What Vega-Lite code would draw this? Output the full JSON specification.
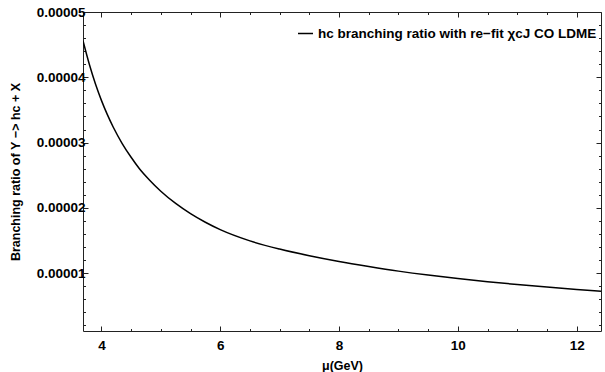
{
  "$schema": "https://vega.github.io/schema/vega-lite/v6.json",
  "width": 518,
  "height": 319,
  "autosize": {"type": "none"},
  "padding": {"left": 83, "top": 12, "right": 3, "bottom": 41},
  "background": "white",
  "config": {
    "font": "Liberation Sans",
    "view": {"stroke": "#222222", "strokeWidth": 1},
    "axis": {
      "grid": false,
      "domain": false,
      "tickColor": "#222222",
      "labelFont": "Liberation Sans",
      "labelFontWeight": "bold",
      "labelFontSize": 13.5,
      "labelColor": "black",
      "titleFont": "Liberation Sans",
      "titleFontWeight": "bold",
      "titleFontSize": 12.5,
      "titleColor": "black"
    }
  },
  "data": {
    "values": [
      {"mu": 3.69, "br": 0.00004560, "series": "hc branching ratio with re\u2212fit \u03c7cJ CO LDME"},
      {"mu": 3.8, "br": 0.00004188, "series": "hc branching ratio with re\u2212fit \u03c7cJ CO LDME"},
      {"mu": 3.9, "br": 0.00003897, "series": "hc branching ratio with re\u2212fit \u03c7cJ CO LDME"},
      {"mu": 4.0, "br": 0.00003647, "series": "hc branching ratio with re\u2212fit \u03c7cJ CO LDME"},
      {"mu": 4.1, "br": 0.00003428, "series": "hc branching ratio with re\u2212fit \u03c7cJ CO LDME"},
      {"mu": 4.2, "br": 0.00003235, "series": "hc branching ratio with re\u2212fit \u03c7cJ CO LDME"},
      {"mu": 4.35, "br": 0.00002986, "series": "hc branching ratio with re\u2212fit \u03c7cJ CO LDME"},
      {"mu": 4.5, "br": 0.00002775, "series": "hc branching ratio with re\u2212fit \u03c7cJ CO LDME"},
      {"mu": 4.64, "br": 0.00002600, "series": "hc branching ratio with re\u2212fit \u03c7cJ CO LDME"},
      {"mu": 4.8, "br": 0.00002436, "series": "hc branching ratio with re\u2212fit \u03c7cJ CO LDME"},
      {"mu": 5.0, "br": 0.00002256, "series": "hc branching ratio with re\u2212fit \u03c7cJ CO LDME"},
      {"mu": 5.25, "br": 0.00002068, "series": "hc branching ratio with re\u2212fit \u03c7cJ CO LDME"},
      {"mu": 5.5, "br": 0.00001912, "series": "hc branching ratio with re\u2212fit \u03c7cJ CO LDME"},
      {"mu": 5.75, "br": 0.00001780, "series": "hc branching ratio with re\u2212fit \u03c7cJ CO LDME"},
      {"mu": 6.0, "br": 0.00001667, "series": "hc branching ratio with re\u2212fit \u03c7cJ CO LDME"},
      {"mu": 6.5, "br": 0.00001495, "series": "hc branching ratio with re\u2212fit \u03c7cJ CO LDME"},
      {"mu": 7.0, "br": 0.00001370, "series": "hc branching ratio with re\u2212fit \u03c7cJ CO LDME"},
      {"mu": 7.5, "br": 0.00001268, "series": "hc branching ratio with re\u2212fit \u03c7cJ CO LDME"},
      {"mu": 8.0, "br": 0.00001180, "series": "hc branching ratio with re\u2212fit \u03c7cJ CO LDME"},
      {"mu": 8.5, "br": 0.00001103, "series": "hc branching ratio with re\u2212fit \u03c7cJ CO LDME"},
      {"mu": 9.0, "br": 0.00001032, "series": "hc branching ratio with re\u2212fit \u03c7cJ CO LDME"},
      {"mu": 9.5, "br": 0.00000971, "series": "hc branching ratio with re\u2212fit \u03c7cJ CO LDME"},
      {"mu": 10.0, "br": 0.00000918, "series": "hc branching ratio with re\u2212fit \u03c7cJ CO LDME"},
      {"mu": 10.5, "br": 0.00000870, "series": "hc branching ratio with re\u2212fit \u03c7cJ CO LDME"},
      {"mu": 11.0, "br": 0.00000826, "series": "hc branching ratio with re\u2212fit \u03c7cJ CO LDME"},
      {"mu": 11.5, "br": 0.00000787, "series": "hc branching ratio with re\u2212fit \u03c7cJ CO LDME"},
      {"mu": 12.0, "br": 0.00000751, "series": "hc branching ratio with re\u2212fit \u03c7cJ CO LDME"},
      {"mu": 12.41, "br": 0.00000723, "series": "hc branching ratio with re\u2212fit \u03c7cJ CO LDME"}
    ]
  },
  "resolve": {"axis": {"x": "independent", "y": "independent"}},
  "layer": [
    {
      "mark": {"type": "line", "interpolate": "monotone", "strokeWidth": 1.5, "clip": true},
      "encoding": {
        "x": {
          "field": "mu", "type": "quantitative",
          "scale": {"domain": [3.69, 12.41], "nice": false, "zero": false},
          "axis": {"orient": "bottom", "values": [4, 6, 8, 10, 12], "format": "d", "tickSize": -5, "labelPadding": 12, "title": "\u03bc(GeV)", "titlePadding": 8}
        },
        "y": {
          "field": "br", "type": "quantitative",
          "scale": {"domain": [0.00000115, 0.00005], "nice": false, "zero": false},
          "axis": {"orient": "left", "values": [0.00001, 0.00002, 0.00003, 0.00004, 0.00005], "format": ".5f", "tickSize": -5, "labelPadding": 3, "title": "Branching ratio of \u03a5 \u2212> hc + X", "titlePadding": 14}
        },
        "color": {
          "field": "series", "type": "nominal",
          "scale": {"range": ["black"]},
          "legend": {"title": null, "orient": "none", "legendX": 214, "legendY": 13, "symbolType": "stroke", "symbolSize": 225, "symbolStrokeWidth": 1.5, "labelFontSize": 13.5, "labelFontWeight": "bold", "labelColor": "black", "labelLimit": 400, "padding": 0}
        }
      }
    },
    {
      "mark": {"type": "line", "strokeOpacity": 0},
      "encoding": {
        "x": {"field": "mu", "type": "quantitative", "axis": {"orient": "bottom", "values": [3.5, 4.5, 5, 5.5, 6.5, 7, 7.5, 8.5, 9, 9.5, 10.5, 11, 11.5, 12.5], "labels": false, "tickSize": -2.5, "title": null}},
        "y": {"field": "br", "type": "quantitative", "axis": {"orient": "left", "values": [0.000002, 0.000004, 0.000006, 0.000008, 0.000012, 0.000014, 0.000016, 0.000018, 0.000022, 0.000024, 0.000026, 0.000028, 0.000032, 0.000034, 0.000036, 0.000038, 0.000042, 0.000044, 0.000046, 0.000048], "labels": false, "tickSize": -2.5, "title": null}}
      }
    },
    {
      "mark": {"type": "line", "strokeOpacity": 0},
      "encoding": {
        "x": {"field": "mu", "type": "quantitative", "axis": {"orient": "top", "values": [4, 6, 8, 10, 12], "labels": false, "tickSize": -5, "title": null}},
        "y": {"field": "br", "type": "quantitative", "axis": {"orient": "right", "values": [0.00001, 0.00002, 0.00003, 0.00004, 0.00005], "labels": false, "tickSize": -5, "title": null}}
      }
    },
    {
      "mark": {"type": "line", "strokeOpacity": 0},
      "encoding": {
        "x": {"field": "mu", "type": "quantitative", "axis": {"orient": "top", "values": [3.5, 4.5, 5, 5.5, 6.5, 7, 7.5, 8.5, 9, 9.5, 10.5, 11, 11.5, 12.5], "labels": false, "tickSize": -2.5, "title": null}},
        "y": {"field": "br", "type": "quantitative", "axis": {"orient": "right", "values": [0.000002, 0.000004, 0.000006, 0.000008, 0.000012, 0.000014, 0.000016, 0.000018, 0.000022, 0.000024, 0.000026, 0.000028, 0.000032, 0.000034, 0.000036, 0.000038, 0.000042, 0.000044, 0.000046, 0.000048], "labels": false, "tickSize": -2.5, "title": null}}
      }
    }
  ]
}
